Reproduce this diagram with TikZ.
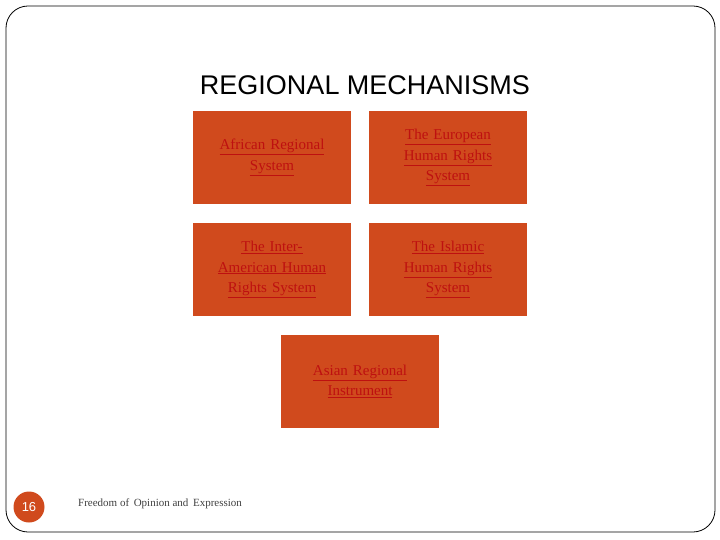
\documentclass[tikz,border=0pt]{standalone}
\usepackage{fontspec}
\setmainfont{Liberation Serif}
\newfontfamily\titlefont{Liberation Sans}
\newcommand\myul[1]{\underline{#1}}
\definecolor{boxc}{HTML}{D04A1D}
\definecolor{txtc}{HTML}{BE1010}
\begin{document}
\begin{tikzpicture}[x=1pt,y=-1pt,
  box/.style={fill=boxc,draw=none,minimum width=158pt,minimum height=93pt,text width=150pt,align=center,font=\fontsize{15}{20.5}\selectfont,text=txtc,inner sep=0pt}]
\useasboundingbox (0,0) rectangle (720,540);
\draw[line width=0.8pt,rounded corners=22pt] (6,6) rectangle (715,532);
\node[font=\titlefont\fontsize{27}{30}\selectfont] (title) at (365,85) {REGIONAL MECHANISMS};
\node[box] (a) at (272,157.5) {\myul{African Regional}\\ \myul{System}};
\node[box] (b) at (448,157.5) {\myul{The European}\\ \myul{Human Rights}\\ \myul{System}};
\node[box] (c) at (272,269.5) {\myul{The Inter-}\\ \myul{American Human}\\ \myul{Rights System}};
\node[box] (d) at (448,269.5) {\myul{The Islamic}\\ \myul{Human Rights}\\ \myul{System}};
\node[box] (e) at (360,381.5) {\myul{Asian Regional}\\ \myul{Instrument}};
\node[circle,fill=boxc,minimum size=31pt,inner sep=0pt,text=white,font=\titlefont\fontsize{13}{13}\selectfont] (num) at (29,507) {16};
\node[anchor=west,inner sep=0pt,text=black!75,font=\fontsize{11}{11}\selectfont] (foot) at (78,504) {Freedom of \,Opinion and \,Expression};
\end{tikzpicture}
\end{document}
